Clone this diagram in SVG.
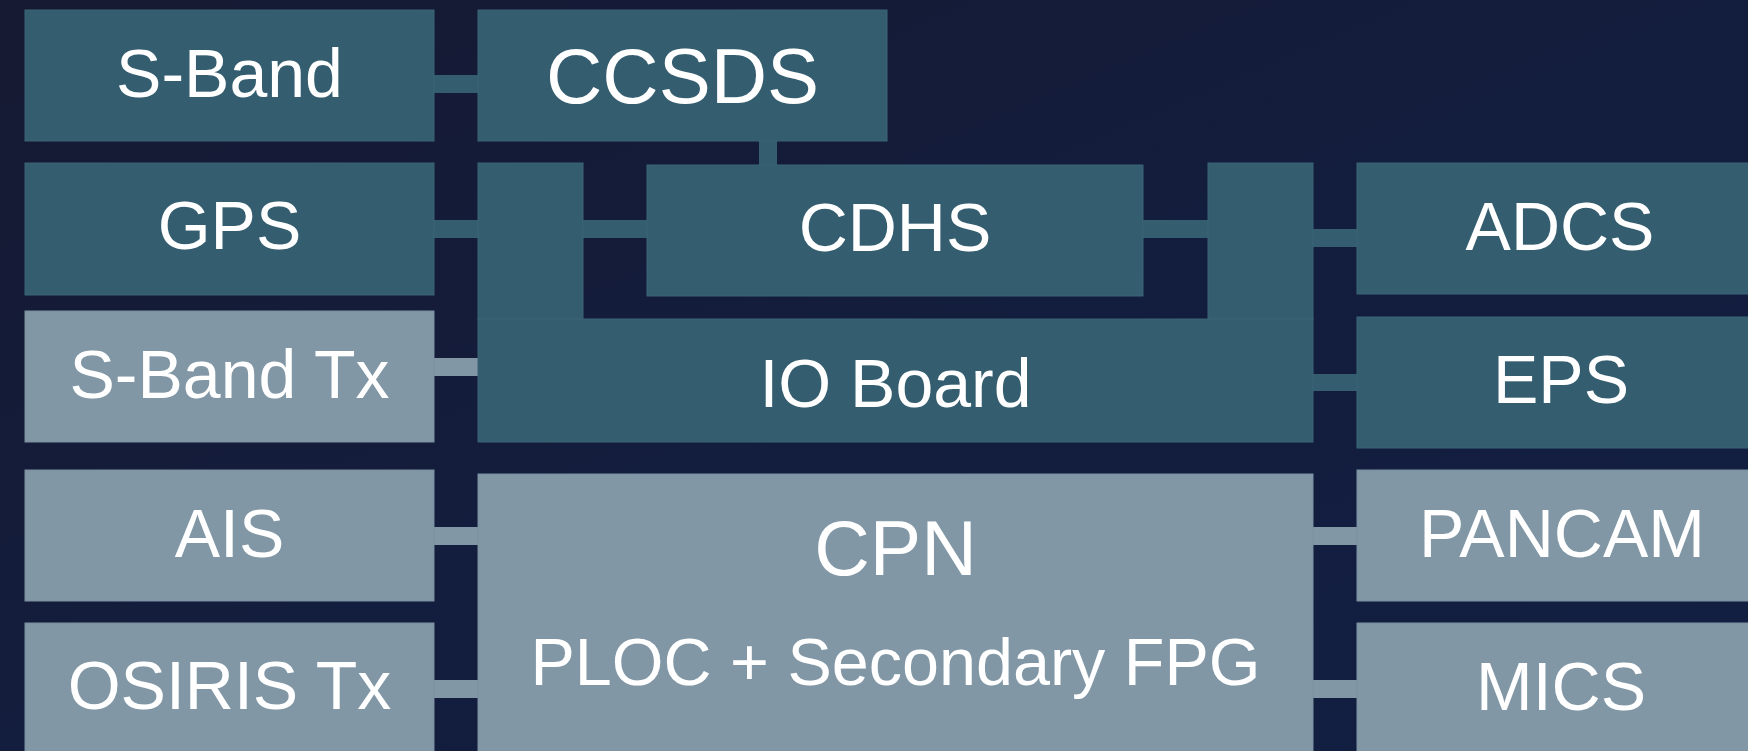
<svg xmlns="http://www.w3.org/2000/svg" width="1748" height="751" viewBox="0 0 1748 751">
<defs>
<linearGradient id="bg" x1="0" y1="0" x2="1" y2="1">
<stop offset="0" stop-color="#161a32"/>
<stop offset="0.5" stop-color="#131d3d"/>
<stop offset="1" stop-color="#121f42"/>
</linearGradient>
</defs>
<style>
.d{fill:#345e6f;stroke:#3b6577;stroke-width:1}
.l{fill:#8197a5;stroke:#7a8fa0;stroke-width:1}
.cd{fill:#345e6f}
.cl{fill:#8197a5}
text{font-family:"Liberation Sans",Arial,sans-serif;fill:#ffffff;text-anchor:middle;font-size:68px}
</style>
<rect x="0" y="0" width="1748" height="751" fill="url(#bg)"/>
<g id="connectors">
<rect class="cd" x="433" y="75" width="46" height="18"/>
<rect class="cd" x="433" y="220" width="46" height="18"/>
<rect class="cd" x="582" y="220" width="66" height="18"/>
<rect class="cd" x="759" y="140" width="18" height="26"/>
<rect class="cd" x="1142" y="220" width="67" height="18"/>
<rect class="cd" x="1312" y="229" width="46" height="18"/>
<rect class="cl" x="433" y="358" width="46" height="18"/>
<rect class="cd" x="1312" y="374" width="46" height="17"/>
<rect class="cl" x="433" y="527" width="46" height="18"/>
<rect class="cl" x="1312" y="527" width="46" height="18"/>
<rect class="cl" x="433" y="680" width="46" height="18"/>
<rect class="cl" x="1312" y="680" width="46" height="18"/>
</g>
<g id="sband">
<rect class="d" x="25" y="10" width="409" height="131"/>
<text x="229.5" y="97">S-Band</text>
</g>
<g id="ccsds">
<rect class="d" x="478" y="10" width="409" height="131"/>
<text x="682.5" y="103" style="font-size:78px">CCSDS</text>
</g>
<g id="gps">
<rect class="d" x="25" y="163" width="409" height="132"/>
<text x="229.5" y="249">GPS</text>
</g>
<g id="cdhs">
<rect class="d" x="647" y="165" width="496" height="131"/>
<text x="895" y="251">CDHS</text>
</g>
<g id="adcs">
<rect class="d" x="1357" y="163" width="406" height="131"/>
<text x="1560" y="250">ADCS</text>
</g>
<g id="sbandtx">
<rect class="l" x="25" y="311" width="409" height="131"/>
<text x="229.5" y="398">S-Band Tx</text>
</g>
<g id="ioboard">
<rect class="d" x="478" y="163" width="105" height="156"/>
<rect class="d" x="1208" y="163" width="105" height="156"/>
<rect class="d" x="478" y="319" width="835" height="123"/>
<text x="895.5" y="407">IO Board</text>
</g>
<g id="eps">
<rect class="d" x="1357" y="317" width="406" height="131"/>
<text x="1561" y="403">EPS</text>
</g>
<g id="ais">
<rect class="l" x="25" y="470" width="409" height="131"/>
<text x="229.5" y="557">AIS</text>
</g>
<g id="cpn">
<rect class="l" x="478" y="474" width="835" height="290"/>
<text x="895.5" y="575" style="font-size:77px">CPN</text>
<text x="895.5" y="685" style="font-size:66.5px">PLOC + Secondary FPG</text>
</g>
<g id="pancam">
<rect class="l" x="1357" y="470" width="406" height="131"/>
<text x="1562" y="557">PANCAM</text>
</g>
<g id="osiris">
<rect class="l" x="25" y="623" width="409" height="140"/>
<text x="229.5" y="709">OSIRIS Tx</text>
</g>
<g id="mics">
<rect class="l" x="1357" y="623" width="406" height="140"/>
<text x="1561" y="710">MICS</text>
</g>
</svg>
